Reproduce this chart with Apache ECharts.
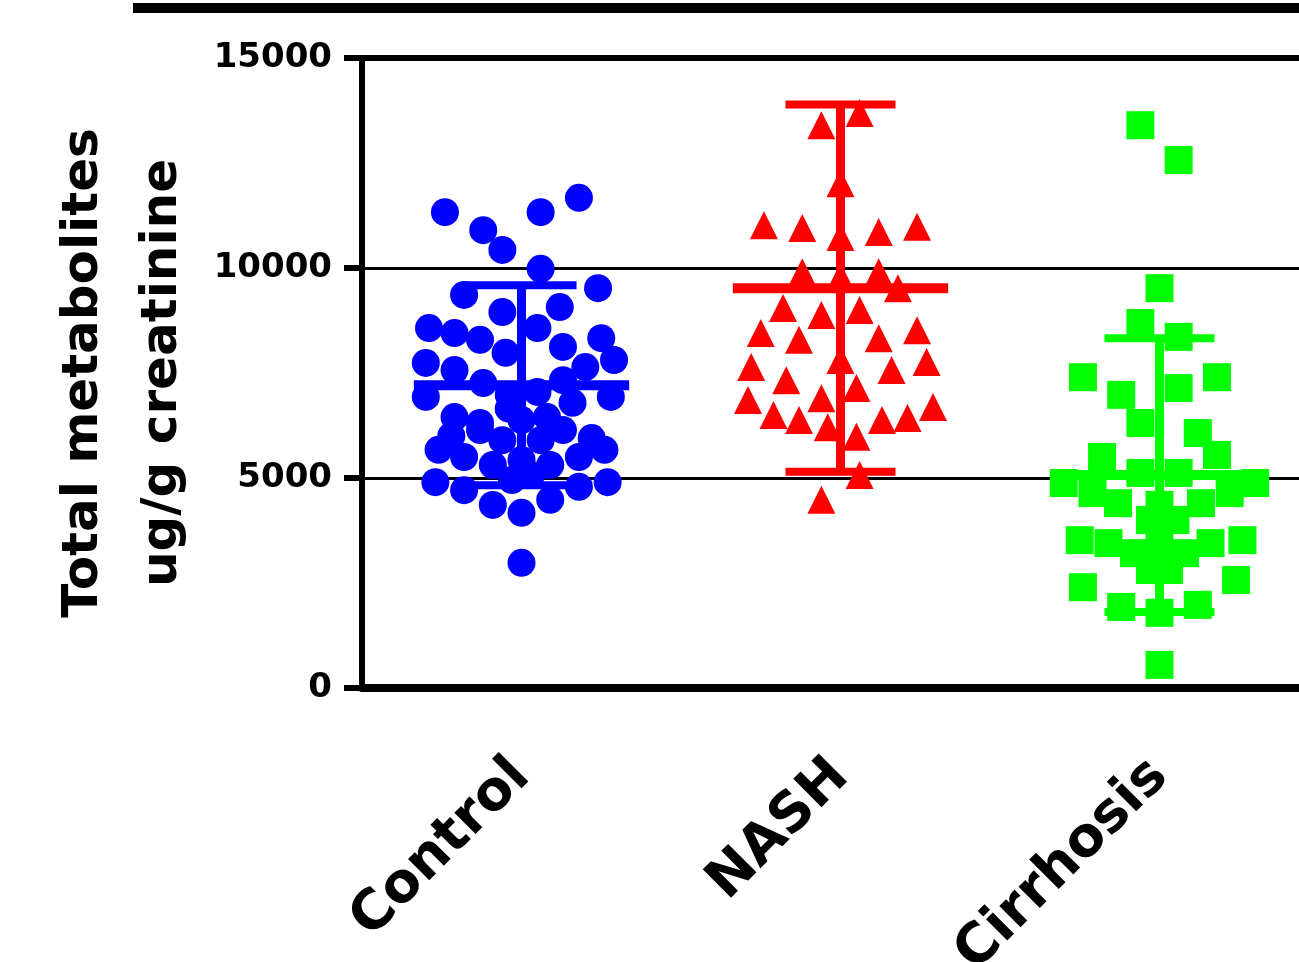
<!DOCTYPE html>
<html>
<head>
<meta charset="utf-8">
<script src="https://cdn.jsdelivr.net/npm/echarts@6/dist/echarts.min.js"></script>
<style>
    html, body { margin: 0; padding: 0; background: #fff; }
    #main { width: 1299px; height: 962px; }
</style>
</head>
<body>
<div id="main"></div>
<script>
// groups and axis ticks
var categories = ['Control', 'NASH', 'Cirrhosis'];
var yTicks = [0, 5000, 10000, 15000];
var groupColors = ['#0000ff', '#ff0000', '#00ff00'];
var groupSymbols = ['circle', 'triangle', 'rect'];

// each point: [offset from group centre (category widths), value]
var controlPoints = [
    [-0.24, 11330], [0.18, 11670], [0.06, 11330], [-0.12, 10900], [-0.06, 10430],
    [0.06, 9980], [-0.18, 9360], [0.24, 9520], [-0.06, 8950], [0.12, 9070],
    [-0.29, 8570], [-0.21, 8450], [-0.13, 8290], [-0.05, 7980], [0.05, 8570],
    [0.13, 8120], [0.25, 8330], [-0.30, 7740], [-0.21, 7570], [-0.12, 7260],
    [-0.04, 6980], [0.05, 7050], [0.13, 7330], [0.20, 7640], [0.29, 7810],
    [-0.30, 6930], [-0.21, 6450], [-0.13, 6310], [0.08, 6450], [0.16, 6790],
    [0.28, 6930], [-0.04, 6650], [-0.13, 6140], [0.13, 6140], [0, 6380],
    [-0.06, 5900], [0.06, 5900], [0.22, 5950], [-0.22, 6000],
    [-0.26, 5670], [-0.18, 5500], [0.26, 5670], [0.18, 5500],
    [0, 5430], [-0.09, 5310], [0.09, 5310], [-0.03, 4950], [0.03, 5070],
    [-0.27, 4900], [-0.18, 4710], [-0.09, 4360], [0, 4170], [0.09, 4480],
    [0.18, 4790], [0.27, 4900], [0, 2980]
];
var nashPoints = [
    [0.06, 13690], [-0.06, 13400], [0, 12020], [-0.24, 11020], [-0.12, 10950],
    [0, 10740], [0.12, 10860], [0.24, 10980], [-0.12, 9900], [0, 9790],
    [0.12, 9900], [0.18, 9520], [-0.18, 9050], [-0.06, 8880], [0.06, 9000],
    [-0.25, 8450], [-0.13, 8290], [0.12, 8330], [0.24, 8520], [0, 7810],
    [-0.28, 7640], [-0.17, 7330], [0.16, 7570], [0.27, 7760], [0.05, 7140],
    [-0.29, 6860], [-0.06, 6900], [-0.21, 6500], [-0.13, 6380], [0.29, 6690],
    [-0.04, 6210], [0.13, 6380], [0.21, 6430], [0.05, 5980], [0.06, 5070],
    [-0.06, 4480]
];
var cirrhosisPoints = [
    [-0.06, 13400], [0.06, 12570], [0, 9520], [-0.06, 8690], [0.06, 8360],
    [-0.24, 7400], [0.18, 7400], [-0.12, 6980], [0.06, 7140], [-0.06, 6310],
    [0.12, 6070], [-0.18, 5500], [0.18, 5550], [-0.06, 5120], [0.06, 5120],
    [-0.30, 4880], [0.30, 4880], [-0.21, 4640], [0.22, 4640], [-0.13, 4400],
    [0.13, 4400], [0, 4360], [-0.03, 4000], [0.05, 4000], [-0.25, 3520],
    [0.26, 3520], [-0.16, 3450], [0.16, 3450], [-0.08, 3210], [0.08, 3210],
    [0, 3360], [-0.03, 2810], [0.03, 2810], [-0.24, 2400], [0.24, 2570],
    [-0.12, 1930], [0.12, 1980], [0, 1790], [0, 550]
];

// mean and SD lines
var groupMeans = [7210, 9520, 5070];
var groupSDs = [2380, 4370, 3260];

function getDotPlot() {
    var chartDom = document.getElementById('main')
    var instance = echarts.init(chartDom)

    var groups = [controlPoints, nashPoints, cirrhosisPoints]
    var series = []
    groups.forEach(function (points, i) {
        series.push({
            name: categories[i],
            type: 'scatter',
            xAxisIndex: 1,
            symbol: groupSymbols[i],
            symbolSize: 28,
            itemStyle: {
                color: groupColors[i],
                opacity: 1
            },
            z: 2,
            data: points.map(function (p) {
                return [i + p[0], p[1]]
            })
        })
    })

    series.push({
        type: 'custom',
        xAxisIndex: 1,
        z: 3,
        renderItem: function (params, api) {
            var i = api.value(0)
            var m = api.value(1)
            var s = api.value(2)
            var c = api.coord([i, m])
            var hi = api.coord([i, m + s])
            var lo = api.coord([i, m - s])
            var meanW = api.size([0.675, 0])[0] / 2
            var capW = api.size([0.345, 0])[0] / 2
            var color = groupColors[i]
            return {
                type: 'group',
                children: [
                    {type: 'line', shape: {x1: c[0], y1: hi[1], x2: c[0], y2: lo[1]}, style: {stroke: color, lineWidth: 9}},
                    {type: 'line', shape: {x1: c[0] - capW, y1: hi[1], x2: c[0] + capW, y2: hi[1]}, style: {stroke: color, lineWidth: 8}},
                    {type: 'line', shape: {x1: c[0] - capW, y1: lo[1], x2: c[0] + capW, y2: lo[1]}, style: {stroke: color, lineWidth: 8}},
                    {type: 'line', shape: {x1: c[0] - meanW, y1: c[1], x2: c[0] + meanW, y2: c[1]}, style: {stroke: color, lineWidth: 10}}
                ]
            }
        },
        data: groupMeans.map(function (m, i) {
            return [i, m, groupSDs[i]]
        })
    })

    var option = {
        animation: false,
        backgroundColor: '#ffffff',
        textStyle: {
            fontFamily: 'DejaVu Sans'
        },
        grid: {
            left: 362,
            width: 957,
            top: 58,
            height: 630,
            containLabel: false,
            outerBoundsMode: 'none'
        },
        graphic: [
            {
                type: 'rect',
                left: 133,
                top: 3,
                shape: {width: 1166, height: 10},
                style: {fill: '#000'}
            }
        ],
        xAxis: [
            {
                type: 'category',
                data: categories,
                position: 'bottom',
                axisLine: {
                    lineStyle: {color: '#000', width: 8}
                },
                axisTick: {
                    alignWithLabel: true,
                    length: 18,
                    lineStyle: {color: '#000', width: 5}
                },
                axisLabel: {
                    rotate: 45,
                    margin: 80,
                    color: '#000',
                    fontSize: 55,
                    fontWeight: 'bold',
                    fontFamily: 'DejaVu Sans'
                },
                splitLine: {show: false}
            },
            {
                type: 'value',
                position: 'top',
                min: -0.5,
                max: 2.5,
                axisLine: {
                    show: true,
                    onZero: false,
                    lineStyle: {color: '#000', width: 6}
                },
                axisTick: {show: false},
                axisLabel: {show: false},
                splitLine: {show: false}
            }
        ],
        yAxis: {
            type: 'value',
            min: yTicks[0],
            max: yTicks[yTicks.length - 1],
            interval: yTicks[1] - yTicks[0],
            name: 'Total metabolites\nug/g creatinine',
            nameLocation: 'middle',
            nameRotate: 90,
            nameGap: 137,
            nameTextStyle: {
                color: '#000',
                fontSize: 50,
                fontWeight: 'bold',
                fontFamily: 'DejaVu Sans',
                lineHeight: 79
            },
            axisLine: {
                show: true,
                onZero: false,
                lineStyle: {color: '#000', width: 6}
            },
            axisTick: {
                show: true,
                length: 18,
                lineStyle: {color: '#000', width: 6}
            },
            axisLabel: {
                margin: 30,
                color: '#000',
                fontSize: 34,
                fontWeight: 'bold',
                fontFamily: 'DejaVu Sans',
                formatter: function (v) {
                    return String(v)
                }
            },
            splitLine: {
                show: true,
                lineStyle: {color: '#000', width: 3}
            }
        },
        series: series
    };

    instance.setOption(option)
}

getDotPlot()
</script>
</body>
</html>
